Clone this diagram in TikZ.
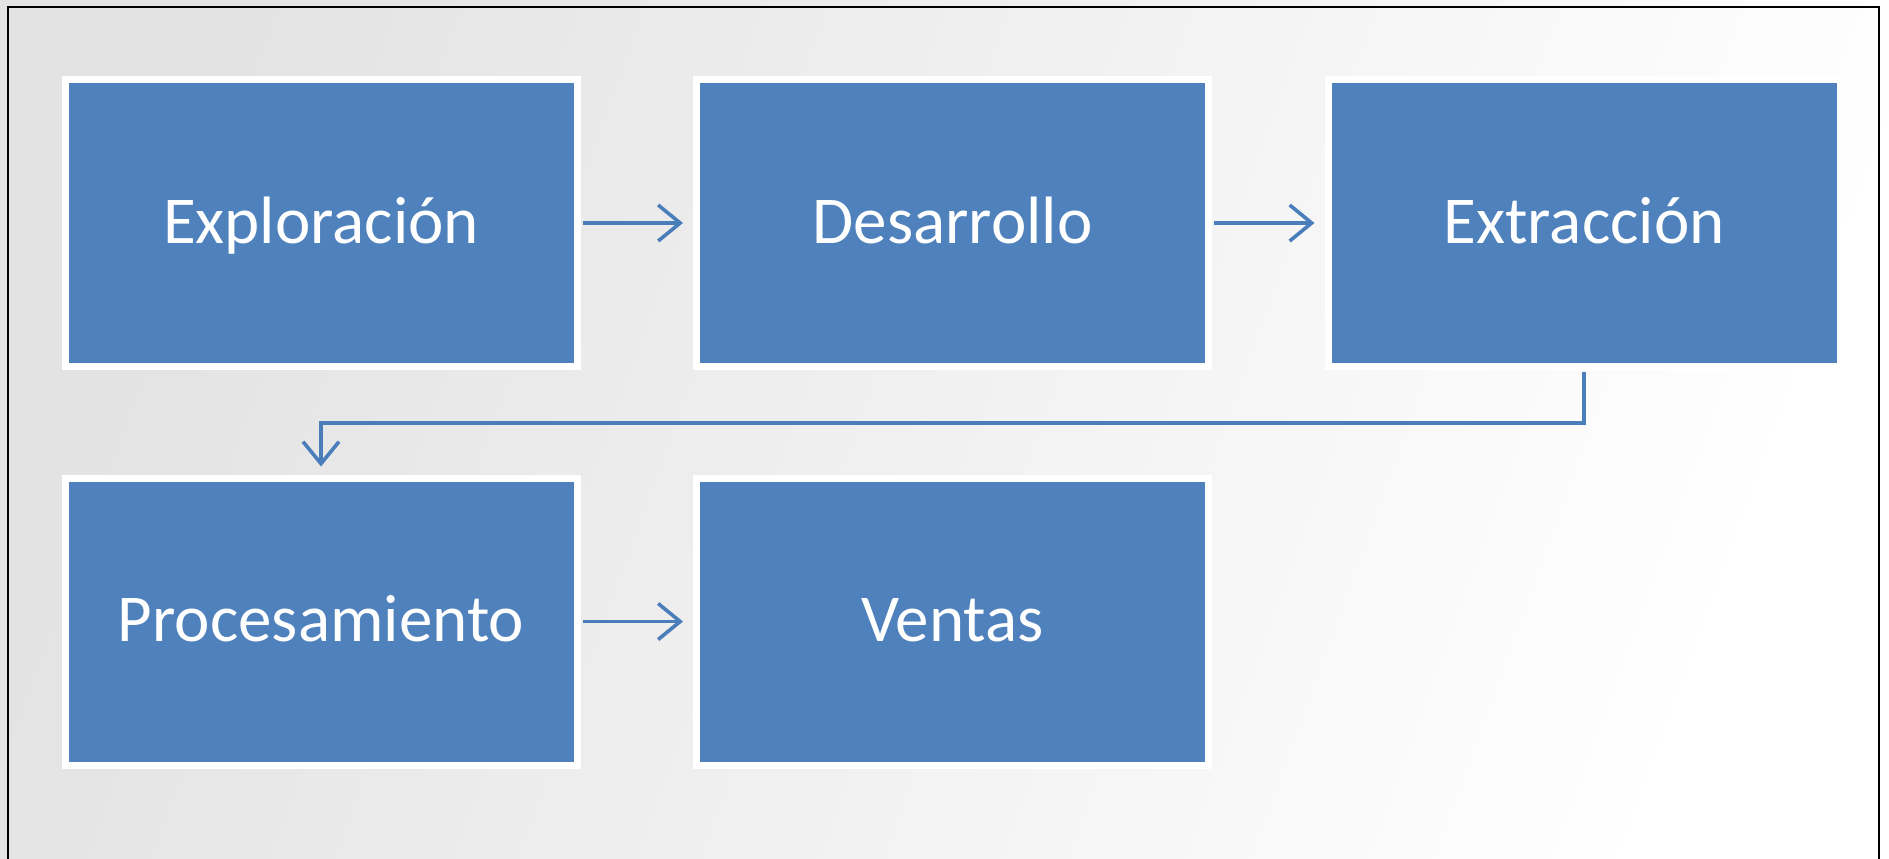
\documentclass[tikz,border=0pt]{standalone}
\usepackage{fontspec}
\setmainfont{Carlito}
\usetikzlibrary{arrows.meta}
\definecolor{boxblue}{HTML}{4F81BD}
\definecolor{linkblue}{HTML}{4A7EBB}
\begin{document}
\begin{tikzpicture}[x=0.5pt,y=-0.5pt,
  stage/.style={rectangle, fill=boxblue, draw=white, line width=3.5pt,
    minimum width=256pt, minimum height=143.5pt, inner sep=0pt,
    text height=24pt, text depth=4pt,
    text=white, font=\fontsize{33.5pt}{40pt}\selectfont},
  flow/.style={draw=linkblue, line width=1.8pt,
    -{Straight Barb[length=11pt,width=18pt,line width=1.8pt]}}]
\path[use as bounding box] (0,0) rectangle (1889,858);
\shade[left color=black!11, right color=white, shading angle=70] (0,0) rectangle (1889,858);
\draw[black, line width=1.2pt] (8,900) -- (8,7) -- (1879,7) -- (1879,900);
\node[stage] (exp) at (321,223) {Exploración};
\node[stage] (des) at (952.5,223) {Desarrollo};
\node[stage] (ext) at (1584,223) {Extracción};
\node[stage] (pro) at (321,621.5) {Procesamiento};
\node[stage] (ven) at (952.5,621.5) {Ventas};
\draw[flow] ([xshift=1pt]exp.east) -- ([xshift=-5pt]des.west);
\draw[flow] ([xshift=1pt]des.east) -- ([xshift=-5pt]ext.west);
\draw[flow] ([xshift=1pt]pro.east) -- ([xshift=-5pt]ven.west);
\draw[flow] ([yshift=-1pt]ext.south) -- ++(0,51) -| ([yshift=4pt]pro.north);
\end{tikzpicture}
\end{document}
